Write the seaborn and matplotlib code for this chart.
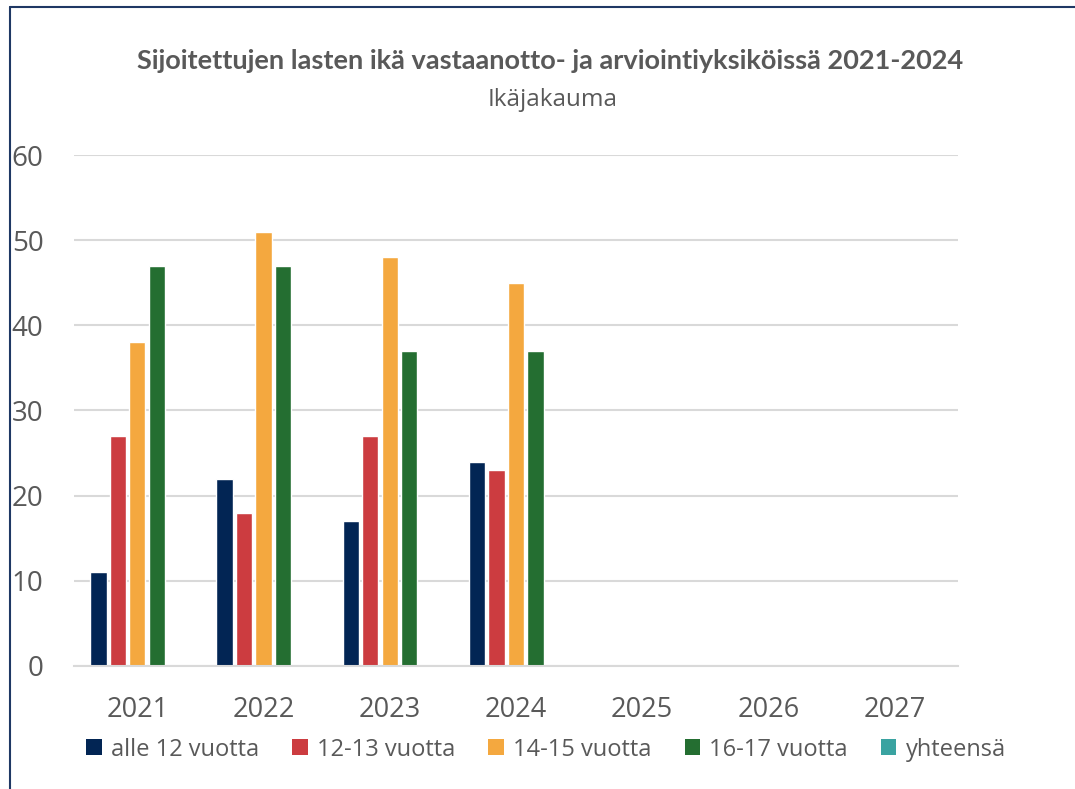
import pandas as pd
import numpy as np
import seaborn as sns
import matplotlib.pyplot as plt
from matplotlib.patches import Patch
from matplotlib.lines import Line2D

years = ['2021', '2022', '2023', '2024', '2025', '2026', '2027']
series = ['alle 12 vuotta', '12-13 vuotta', '14-15 vuotta', '16-17 vuotta', 'yhteensä']
alle_12 = [11, 22, 17, 24, None, None, None]
v12_13 = [27, 18, 27, 23, None, None, None]
v14_15 = [38, 51, 48, 45, None, None, None]
v16_17 = [47, 47, 37, 37, None, None, None]
yhteensa = [None, None, None, None, None, None, None]
colors = ['#022554', '#CC3C40', '#F4A83F', '#246E31', '#3AA3A1']

rows = []
for name, vals in zip(series, [alle_12, v12_13, v14_15, v16_17, yhteensa]):
    for year, v in zip(years, vals):
        rows.append({'vuosi': year, 'sarja': name, 'arvo': np.nan if v is None else v})
df = pd.DataFrame(rows)

sns.set_style('white')
plt.rcParams['font.family'] = ['Open Sans', 'DejaVu Sans']

fig = plt.figure(figsize=(10.75, 7.89), dpi=100)
ax = fig.add_axes([0.069, 0.156, 0.822, 0.6475])

sns.barplot(data=df, x='vuosi', y='arvo', hue='sarja', order=years,
            hue_order=series, palette=colors, width=0.77, gap=0.16,
            saturation=1, legend=False, ax=ax, errorbar=None)

ax.set_xlim(-0.5, len(years) - 0.5)
ax.set_ylim(0, 60)
ax.set_yticks(range(0, 61, 10))
ax.yaxis.grid(True, color='#D9D9D9', linewidth=1.5)
ax.set_axisbelow(True)
for s in ['top', 'right', 'left']:
    ax.spines[s].set_visible(False)
ax.spines['bottom'].set_color('#D9D9D9')
ax.spines['bottom'].set_linewidth(1.5)
ax.tick_params(axis='y', length=0, pad=22, labelsize=20, labelcolor='#595959')
ax.tick_params(axis='x', length=0, pad=22, labelsize=19.5, labelcolor='#595959')
ax.set_xlabel('')
ax.set_ylabel('')

fig.text(0.512, 0.923, 'Sijoitettujen lasten ikä vastaanotto- ja arviointiyksiköissä 2021-2024',
         ha='center', va='center', fontsize=19.5, fontweight='bold', color='#595959',
         family=['Lato', 'DejaVu Sans'])
fig.text(0.514, 0.873, 'Ikäjakauma', ha='center', va='center', fontsize=17.5, color='#595959')

handles = [Patch(facecolor=c, edgecolor='none') for c in colors]
fig.legend(handles, series, loc='center', bbox_to_anchor=(0.508, 0.05), ncol=5,
           frameon=False, fontsize=17, labelcolor='#595959', handlelength=0.65,
           handleheight=0.65, handletextpad=0.4, columnspacing=1.4)

# frame of the chart area
fig.add_artist(Line2D([10 / 1075, 10 / 1075], [0, 1 - 7 / 789], color='#1F3864', linewidth=1.5))
fig.add_artist(Line2D([10 / 1075, 1], [1 - 7 / 789, 1 - 7 / 789], color='#1F3864', linewidth=1.5))

fig.savefig('out.png', dpi=100)
